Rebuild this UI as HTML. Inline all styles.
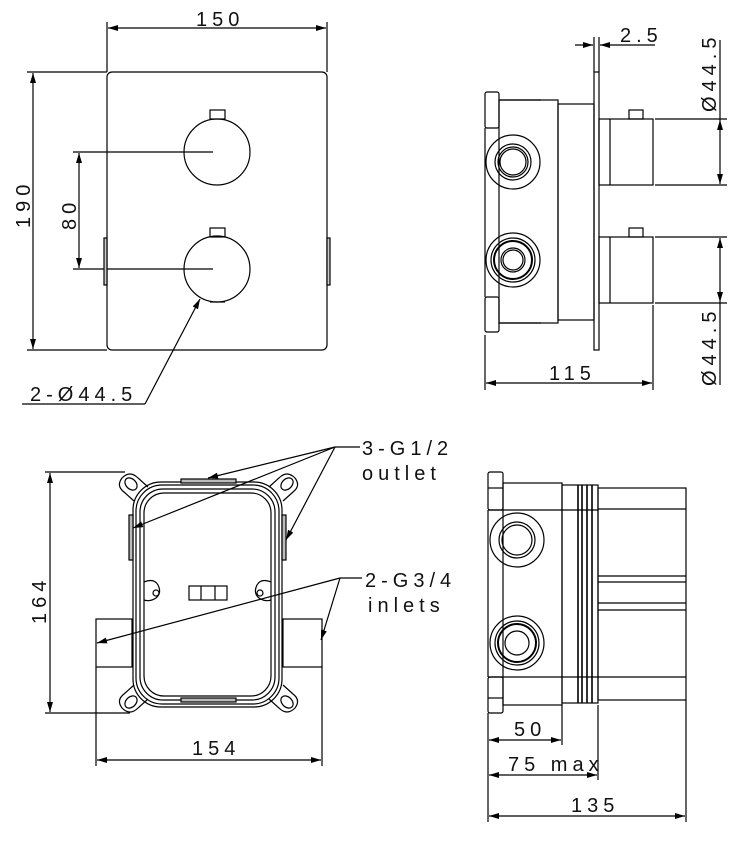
<!DOCTYPE html>
<html><head><meta charset="utf-8"><style>
html,body{margin:0;padding:0;background:#fff}
svg{display:block}
text{font-family:"Liberation Sans",sans-serif;font-size:20px;fill:#111;letter-spacing:5px}
</style></head><body>
<svg width="739" height="845" viewBox="0 0 739 845" xmlns="http://www.w3.org/2000/svg">
<defs>
<marker id="a" viewBox="0 0 10 6" refX="10" refY="3" markerWidth="10" markerHeight="6" orient="auto-start-reverse" markerUnits="userSpaceOnUse"><path d="M0,0L10,3L0,6z" fill="#000"/></marker>
</defs>
<g fill="none" stroke="#000" stroke-width="1.2">
<!-- View 1 -->
<rect x="107" y="72" width="220" height="278" rx="5"/>
<line x1="107" y1="22" x2="107" y2="72"/><line x1="327" y1="22" x2="327" y2="72"/>
<line x1="108" y1="28" x2="326" y2="28" marker-start="url(#a)" marker-end="url(#a)"/>
<line x1="27" y1="72" x2="107" y2="72"/><line x1="27" y1="350" x2="107" y2="350"/>
<line x1="33" y1="73" x2="33" y2="349" marker-start="url(#a)" marker-end="url(#a)"/>
<circle cx="217" cy="152" r="33"/><circle cx="217" cy="269" r="33"/>
<rect x="210" y="110" width="15" height="9"/><rect x="210" y="228" width="15" height="9"/>
<path d="M210,302 h15"/>
<line x1="73" y1="152" x2="213" y2="152"/><line x1="73" y1="269" x2="213" y2="269"/>
<line x1="79" y1="153" x2="79" y2="268" marker-start="url(#a)" marker-end="url(#a)"/>
<rect x="104" y="238" width="3" height="47" fill="#ccc"/><rect x="327" y="238" width="3" height="47" fill="#ccc"/>
<line x1="145" y1="404" x2="200" y2="299" marker-end="url(#a)"/><line x1="22" y1="404" x2="145" y2="404"/>
<!-- View 2 -->
<rect x="485" y="92" width="14" height="36" rx="2"/><rect x="485" y="297" width="14" height="35" rx="2"/>
<line x1="485" y1="128" x2="485" y2="297"/>
<rect x="499" y="100" width="59" height="223"/>
<path d="M499,100 h42 M499,323 h42"/>
<rect x="558" y="104" width="36" height="216"/>
<rect x="594" y="72" width="5" height="278"/>
<rect x="599" y="119" width="54" height="66"/><line x1="610" y1="119" x2="610" y2="185"/>
<rect x="599" y="237" width="54" height="66"/><line x1="610" y1="237" x2="610" y2="303"/>
<rect x="629" y="110" width="14" height="9"/><rect x="629" y="228" width="14" height="9"/>
<circle cx="513" cy="162" r="27"/><circle cx="513" cy="162" r="18"/><circle cx="513" cy="162" r="15"/><circle cx="513" cy="162" r="13"/>
<circle cx="513" cy="260" r="27"/><circle cx="513" cy="260" r="22"/><circle cx="513" cy="260" r="19" stroke-width="2"/><circle cx="513" cy="260" r="12"/><circle cx="513" cy="260" r="10"/>
<line x1="594" y1="37" x2="594" y2="72"/><line x1="599" y1="37" x2="599" y2="72"/>
<line x1="575" y1="45" x2="593" y2="45" marker-end="url(#a)"/><line x1="655" y1="45" x2="600" y2="45" marker-end="url(#a)"/>
<line x1="655" y1="119" x2="727" y2="119"/><line x1="655" y1="185" x2="727" y2="185"/>
<line x1="720" y1="120" x2="720" y2="184" marker-start="url(#a)" marker-end="url(#a)"/><line x1="720" y1="40" x2="720" y2="120"/>
<line x1="655" y1="237" x2="727" y2="237"/><line x1="655" y1="303" x2="727" y2="303"/>
<line x1="720" y1="238" x2="720" y2="302" marker-start="url(#a)" marker-end="url(#a)"/><line x1="720" y1="302" x2="720" y2="385"/>
<line x1="485" y1="335" x2="485" y2="390"/><line x1="653" y1="305" x2="653" y2="390"/>
<line x1="486" y1="383" x2="652" y2="383" marker-start="url(#a)" marker-end="url(#a)"/>
<!-- View 3 -->
<line x1="45" y1="472" x2="125" y2="472"/><line x1="45" y1="713" x2="130" y2="713"/>
<line x1="50" y1="473" x2="50" y2="712" marker-start="url(#a)" marker-end="url(#a)"/>
<line x1="96" y1="667" x2="96" y2="766"/><line x1="322" y1="667" x2="322" y2="766"/>
<line x1="97" y1="760" x2="321" y2="760" marker-start="url(#a)" marker-end="url(#a)"/>
<path d="M122,478 q8,-8 16,0 l10,9 M122,478 q-6,8 2,14 l10,9 M295,478 q-8,-8 -16,0 l-10,9 M295,478 q6,8 -2,14 l-10,9"/>
<path d="M122,708 q8,8 16,0 l10,-9 M122,708 q-6,-8 2,-14 l10,-9 M295,708 q-8,8 -16,0 l-10,-9 M295,708 q6,-8 -2,-14 l-10,-9"/>
<ellipse cx="131" cy="484" rx="7" ry="5" transform="rotate(45 131 484)"/><ellipse cx="287" cy="484" rx="7" ry="5" transform="rotate(-45 287 484)"/>
<ellipse cx="131" cy="702" rx="7" ry="5" transform="rotate(-45 131 702)"/><ellipse cx="287" cy="702" rx="7" ry="5" transform="rotate(45 287 702)"/>
<rect x="133" y="482" width="149" height="225" rx="28"/>
<rect x="136" y="485" width="143" height="219" rx="26"/>
<rect x="140" y="489" width="135" height="211" rx="23"/>
<rect x="144" y="493" width="127" height="203" rx="20"/>
<rect x="181" y="479" width="55" height="4" fill="#bbb"/><rect x="181" y="698" width="55" height="4" fill="#bbb"/>
<rect x="129" y="515" width="4" height="45" fill="#bbb"/><rect x="282" y="515" width="4" height="45" fill="#bbb"/>
<rect x="96" y="619" width="36" height="48"/><rect x="283" y="619" width="39" height="48"/>
<rect x="189" y="586" width="38" height="14"/><line x1="201" y1="586" x2="201" y2="600"/><line x1="215" y1="586" x2="215" y2="600"/>
<path d="M144,582 q10,-4 14,3 q4,8 -2,13 q-6,4 -12,2"/><circle cx="156" cy="593" r="3"/>
<path d="M271,582 q-10,-4 -14,3 q-4,8 2,13 q6,4 12,2"/><circle cx="260" cy="593" r="3"/>
<line x1="335" y1="447" x2="360" y2="447"/>
<line x1="335" y1="447" x2="208" y2="478" marker-end="url(#a)"/>
<line x1="335" y1="447" x2="133" y2="528" marker-end="url(#a)"/>
<line x1="335" y1="447" x2="286" y2="540" marker-end="url(#a)"/>
<line x1="340" y1="578" x2="362" y2="578"/>
<line x1="340" y1="578" x2="97" y2="643" marker-end="url(#a)"/>
<line x1="340" y1="578" x2="321" y2="640" marker-end="url(#a)"/>
<!-- View 4 -->
<rect x="488" y="472" width="15" height="38" rx="2"/><rect x="488" y="677" width="15" height="36" rx="2"/>
<line x1="488" y1="510" x2="488" y2="677"/><line x1="488" y1="488" x2="503" y2="488"/><line x1="488" y1="698" x2="503" y2="698"/>
<rect x="503" y="483" width="59" height="222"/><path d="M488,510 h110 M488,677 h110"/>
<rect x="562" y="485" width="36" height="218"/>
<path d="M578,485 v218 M582,485 v218 M587,485 v218 M592,485 v218" stroke-width="1.6"/>
<rect x="598" y="488" width="88" height="212"/>
<path d="M598,509 h88 M598,576 h88 M598,582 h88 M598,603 h88 M598,610 h88 M598,677 h88"/>
<circle cx="517" cy="540" r="27"/><circle cx="517" cy="540" r="18"/><circle cx="517" cy="540" r="15"/>
<circle cx="517" cy="643" r="27"/><circle cx="517" cy="643" r="22"/><circle cx="517" cy="643" r="19" stroke-width="2"/><circle cx="517" cy="643" r="12"/>
<line x1="488" y1="713" x2="488" y2="822"/><line x1="562" y1="705" x2="562" y2="745"/><line x1="598" y1="705" x2="598" y2="780"/><line x1="686" y1="700" x2="686" y2="822"/>
<line x1="489" y1="740" x2="561" y2="740" marker-start="url(#a)" marker-end="url(#a)"/>
<line x1="489" y1="775" x2="597" y2="775" marker-start="url(#a)" marker-end="url(#a)"/>
<line x1="489" y1="816" x2="685" y2="816" marker-start="url(#a)" marker-end="url(#a)"/>
</g>
<text x="196" y="26">150</text>
<text transform="translate(30,228) rotate(-90)">190</text>
<text transform="translate(76,230) rotate(-90)">80</text>
<text x="30" y="401">2-Ø44.5</text>
<text x="620" y="42">2.5</text>
<text transform="translate(716,112) rotate(-90)">Ø44.5</text>
<text transform="translate(716,386) rotate(-90)">Ø44.5</text>
<text x="549" y="380">115</text>
<text x="362" y="455">3-G1/2</text>
<text x="362" y="480">outlet</text>
<text x="365" y="587">2-G3/4</text>
<text x="368" y="612">inlets</text>
<text transform="translate(46,624) rotate(-90)">164</text>
<text x="192" y="755">154</text>
<text x="514" y="736">50</text>
<text x="508" y="771">75 max</text>
<text x="571" y="812">135</text>
</svg>
</body></html>
